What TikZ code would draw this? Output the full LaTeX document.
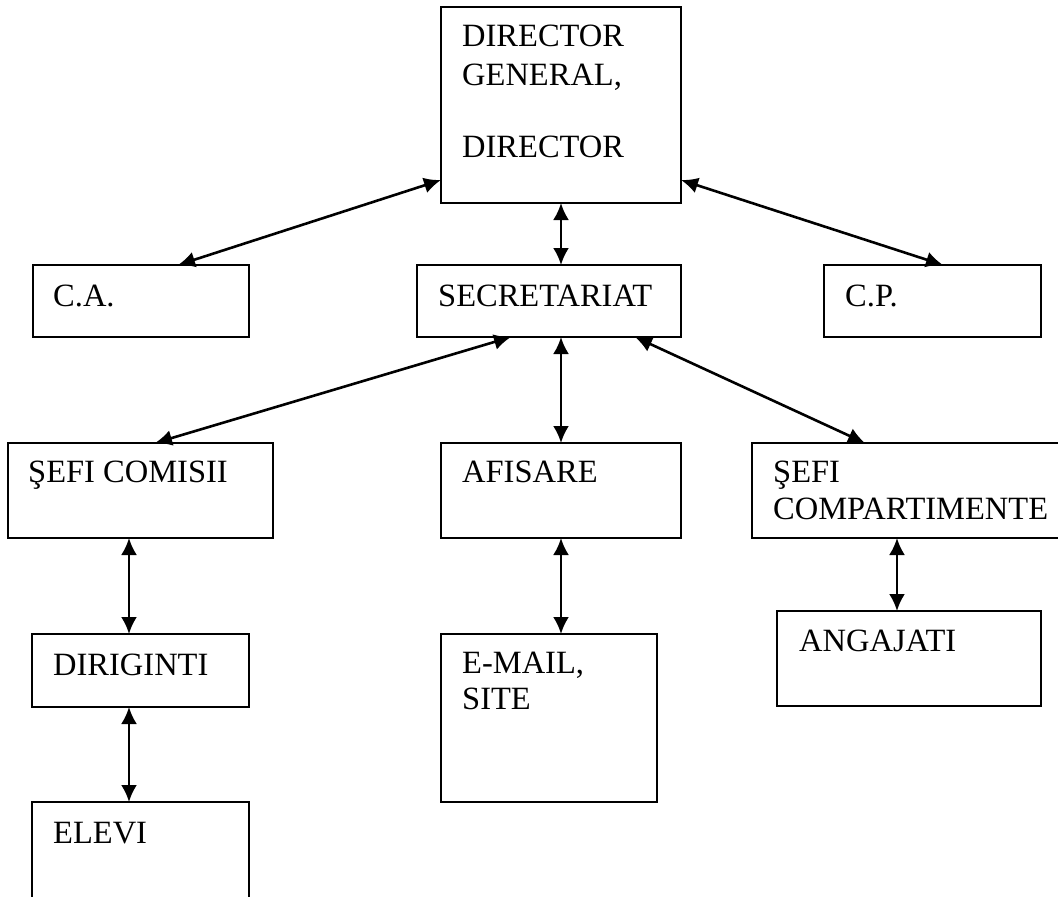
\documentclass[tikz,border=0pt]{standalone}
\usepackage{fontspec}
\setmainfont{Liberation Serif}
\usetikzlibrary{arrows.meta}
\begin{document}
\begin{tikzpicture}[x=1pt,y=-1pt,
  box/.style={draw,line width=2.6pt,rectangle,inner sep=0pt,outer sep=0pt,anchor=north west},
  lbl/.style={anchor=base west,inner sep=0pt,font=\fontsize{32.5}{37}\selectfont},
  link/.style={line width=2.6pt,{Latex[length=17pt,width=16pt]}-{Latex[length=17pt,width=16pt]}}]
\clip (0,0) rectangle (1058,897);
\fill[white] (0,0) rectangle (1058,897);
% boxes
\node[box,minimum width=240pt,minimum height=196pt] (dir) at (441,7) {};
\node[box,minimum width=216pt,minimum height=72pt] (ca) at (33,265) {};
\node[box,minimum width=264pt,minimum height=72pt] (sec) at (417,265) {};
\node[box,minimum width=217pt,minimum height=72pt] (cp) at (824,265) {};
\node[box,minimum width=265pt,minimum height=95pt] (sc) at (8,443) {};
\node[box,minimum width=240pt,minimum height=95pt] (afi) at (441,443) {};
\node[box,minimum width=330pt,minimum height=95pt] (scomp) at (752,443) {};
\node[box,minimum width=217pt,minimum height=73pt] (dirig) at (32,634) {};
\node[box,minimum width=217pt,minimum height=130pt] (elevi) at (32,802) {};
\node[box,minimum width=216pt,minimum height=168pt] (email) at (441,634) {};
\node[box,minimum width=264pt,minimum height=95pt] (ang) at (777,611) {};
% labels
\node[lbl] (t1) at (462,46) {DIRECTOR};
\node[lbl] (t2) at (462,85) {GENERAL,};
\node[lbl] (t3) at (462,157) {DIRECTOR};
\node[lbl] (t4) at (53,306) {C.A.};
\node[lbl] (t5) at (438,306) {SECRETARIAT};
\node[lbl] (t6) at (845,306) {C.P.};
\node[lbl] (t7) at (28,482) {ŞEFI COMISII};
\node[lbl] (t8) at (462,482) {AFISARE};
\node[lbl] (t9) at (773,482) {ŞEFI};
\node[lbl] (t10) at (773,519) {COMPARTIMENTE};
\node[lbl] (t11) at (53,675) {DIRIGINTI};
\node[lbl] (t12) at (53,843) {ELEVI};
\node[lbl] (t13) at (462,673) {E-MAIL,};
\node[lbl] (t14) at (462,709) {SITE};
\node[lbl] (t15) at (799,651) {ANGAJATI};
% connectors
\draw[link] ([yshift=23pt]dir.south west) -- ([xshift=145pt]ca.north west);
\draw[link] ([xshift=120pt]dir.south west) -- ([xshift=144pt]sec.north west);
\draw[link] ([yshift=23pt]dir.south east) -- ([xshift=119pt]cp.north west);
\draw[link] ([xshift=94pt]sec.south west) -- ([xshift=147pt]sc.north west);
\draw[link] ([xshift=144pt]sec.south west) -- ([xshift=120pt]afi.north west);
\draw[link] ([xshift=218pt]sec.south west) -- ([xshift=113pt]scomp.north west);
\draw[link] ([xshift=121pt]sc.south west) -- ([xshift=97pt]dirig.north west);
\draw[link] ([xshift=120pt]afi.south west) -- ([xshift=120pt]email.north west);
\draw[link] ([xshift=145pt]scomp.south west) -- ([xshift=120pt]ang.north west);
\draw[link] ([xshift=97pt]dirig.south west) -- ([xshift=97pt]elevi.north west);
\end{tikzpicture}
\end{document}
